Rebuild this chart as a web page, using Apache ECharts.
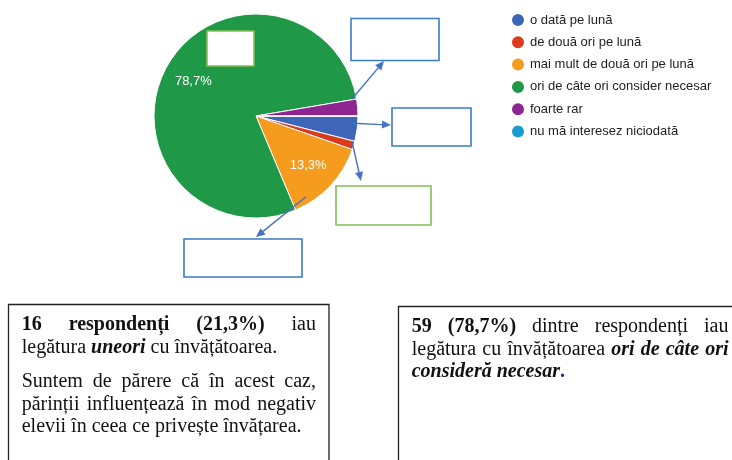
<!DOCTYPE html>
<html><head><meta charset="utf-8">
<script src="https://cdn.jsdelivr.net/npm/echarts@6/dist/echarts.min.js"></script>
<style>html,body{margin:0;padding:0;background:#fff}#c{width:732px;height:460px}</style>
</head><body><div id="c"></div>
<script>
// ---- data ----
const categories = ['o dată pe lună','de două ori pe lună','mai mult de două ori pe lună','ori de câte ori consider necesar','foarte rar','nu mă interesez niciodată'];
const counts = [3, 1, 10, 59, 2, 0];
const colors = ['#3d66b8','#db3a1f','#f59b1e','#1f9848','#8f2591','#1b9bd3'];
const labelledCategories = ['ori de câte ori consider necesar','mai mult de două ori pe lună'];

// text of the two comment boxes: each line is a list of words, each word a list of [text, style]
const leftBoxLines = [
  {justify:true,  words:[[['16','b']],[['respondenți','b']],[['(21,3%)','b']],[['iau','n']]]},
  {justify:false, words:[[['legătura','n']],[['uneori','bi']],[['cu','n']],[['învățătoarea.','n']]]},
  {justify:true,  words:'Suntem de părere că în acest caz,'.split(' ').map(w=>[[w,'n']])},
  {justify:true,  words:'părinții influențează în mod negativ'.split(' ').map(w=>[[w,'n']])},
  {justify:false, words:'elevii în ceea ce privește învățarea.'.split(' ').map(w=>[[w,'n']])}
];
const rightBoxLines = [
  {justify:true,  words:[[['59','b']],[['(78,7%)','b']],[['dintre','n']],[['respondenți','n']],[['iau','n']]]},
  {justify:true,  words:[[['legătura','n']],[['cu','n']],[['învățătoarea','n']],[['ori','bi']],[['de','bi']],[['câte','bi']],[['ori','bi']]]},
  {justify:false, words:[[['consideră','bi']],[['necesar','bi'],['.','bp']]]}
];

// ---- helpers ----
const SERIF = '"Liberation Serif","Times New Roman",serif';
const FS = 20;
const styleDef = {
  n:  {fontWeight:'normal', fontStyle:'normal', fill:'#111'},
  b:  {fontWeight:'bold',   fontStyle:'normal', fill:'#111'},
  bi: {fontWeight:'bold',   fontStyle:'italic', fill:'#111'},
  bp: {fontWeight:'bold',   fontStyle:'normal', fill:'#1f3470'}
};
const mctx = document.createElement('canvas').getContext('2d');
function measure(t, s){
  const d = styleDef[s];
  mctx.font = d.fontStyle + ' ' + d.fontWeight + ' ' + FS + 'px ' + SERIF;
  return mctx.measureText(t).width;
}
function layoutLines(lines, x0, x1, y0, lh, out){
  lines.forEach((ln, li) => {
    const y = y0 + li * lh + (ln.extra || 0);
    const wWidths = ln.words.map(w => w.reduce((a, p) => a + measure(p[0], p[1]), 0));
    const total = wWidths.reduce((a, b) => a + b, 0);
    const n = ln.words.length;
    const gap = ln.justify && n > 1 ? (x1 - x0 - total) / (n - 1) : measure(' ', 'n');
    let x = x0;
    ln.words.forEach((w, wi) => {
      let px = x;
      w.forEach(p => {
        const d = styleDef[p[1]];
        out.push({type:'text', x:px, y:y, z:20, silent:true, style:{
          text:p[0], fontSize:FS, fontFamily:SERIF, fontWeight:d.fontWeight, fontStyle:d.fontStyle,
          fill:d.fill, verticalAlign:'middle', align:'left'}});
        px += measure(p[0], p[1]);
      });
      x += wWidths[wi] + gap;
    });
  });
}
function arrow(x1, y1, x2, y2, color, out){
  const ang = Math.atan2(y2 - y1, x2 - x1), L = 9, W = 4;
  const bx = x2 - L * Math.cos(ang), by = y2 - L * Math.sin(ang);
  out.push({type:'line', z:15, silent:true, shape:{x1:x1, y1:y1, x2:bx, y2:by}, style:{stroke:color, lineWidth:1.4}});
  out.push({type:'polygon', z:15, silent:true, shape:{points:[[x2, y2],
    [bx + W * Math.sin(ang), by - W * Math.cos(ang)], [bx - W * Math.sin(ang), by + W * Math.cos(ang)]]},
    style:{fill:color}});
}
function box(x, y, w, h, color, lw, out){
  out.push({type:'rect', z:14, silent:true, shape:{x:x, y:y, width:w, height:h}, style:{fill:'#fff', stroke:color, lineWidth:lw}});
}

const total = counts.reduce((a, b) => a + b, 0);
const pct = v => (v / total * 100).toFixed(1).replace('.', ',') + '%';

const graphics = [];
const BLUE = '#3a7bc8', GREEN = '#86bd53', ARROW = '#4472c4';
box(207, 31, 47, 35, GREEN, 1.6, graphics);
box(351, 18.5, 88, 42, BLUE, 1.6, graphics);
box(392, 108, 79, 38, BLUE, 1.6, graphics);
box(336, 186, 95, 39, GREEN, 1.6, graphics);
box(184, 239, 118, 38, BLUE, 1.6, graphics);
arrow(351.7, 99.3, 384, 61, ARROW, graphics);
arrow(352.7, 123.3, 391, 125, ARROW, graphics);
arrow(352, 141.7, 361, 181, ARROW, graphics);
arrow(306, 196.7, 256, 237, ARROW, graphics);

graphics.push({type:'rect', z:12, silent:true, shape:{x:8.5, y:304.5, width:320.5, height:220}, style:{fill:'#fff', stroke:'#222', lineWidth:1.3}});
graphics.push({type:'rect', z:12, silent:true, shape:{x:398.5, y:306.5, width:400, height:220}, style:{fill:'#fff', stroke:'#222', lineWidth:1.3}});
leftBoxLines[2].extra = 12; leftBoxLines[3].extra = 12; leftBoxLines[4].extra = 12;
layoutLines(leftBoxLines, 21.7, 316, 325, 22.5, graphics);
layoutLines(rightBoxLines, 411.7, 728.5, 327, 22.5, graphics);

const pieData = categories.map((n, i) => ({name:n, value:counts[i], itemStyle:{color:colors[i]}}));
const chart = echarts.init(document.getElementById('c'), null, {renderer:'canvas'});
chart.setOption({
  animation:false,
  legend:{
    orient:'vertical', left:505, top:7, itemWidth:14, itemHeight:14, itemGap:6.3, icon:'circle',
    data:categories, selectedMode:false,
    textStyle:{fontSize:13, color:'#222', fontFamily:'"Liberation Sans",Arial,sans-serif', lineHeight:14}
  },
  series:[
    {type:'pie', center:[256, 116], radius:102, startAngle:0, clockwise:true, silent:true,
     avoidLabelOverlap:false, data:pieData,
     itemStyle:{borderColor:'#fff', borderWidth:1},
     label:{show:false}, labelLine:{show:false}},
    {type:'pie', center:[256, 116], radius:[35, 102], startAngle:0, clockwise:true, silent:true,
     avoidLabelOverlap:false, legendHoverLink:false,
     data:categories.map((n, i) => ({name:n, value:counts[i], itemStyle:{color:'rgba(0,0,0,0)'}})),
     label:{show:true, position:'inside', color:'#fff', fontSize:13, fontFamily:'"Liberation Sans",Arial,sans-serif',
       formatter:p => labelledCategories.indexOf(p.name) >= 0 ? pct(p.value) : ''},
     labelLine:{show:false}}
  ],
  graphic:graphics
});
</script></body></html>
